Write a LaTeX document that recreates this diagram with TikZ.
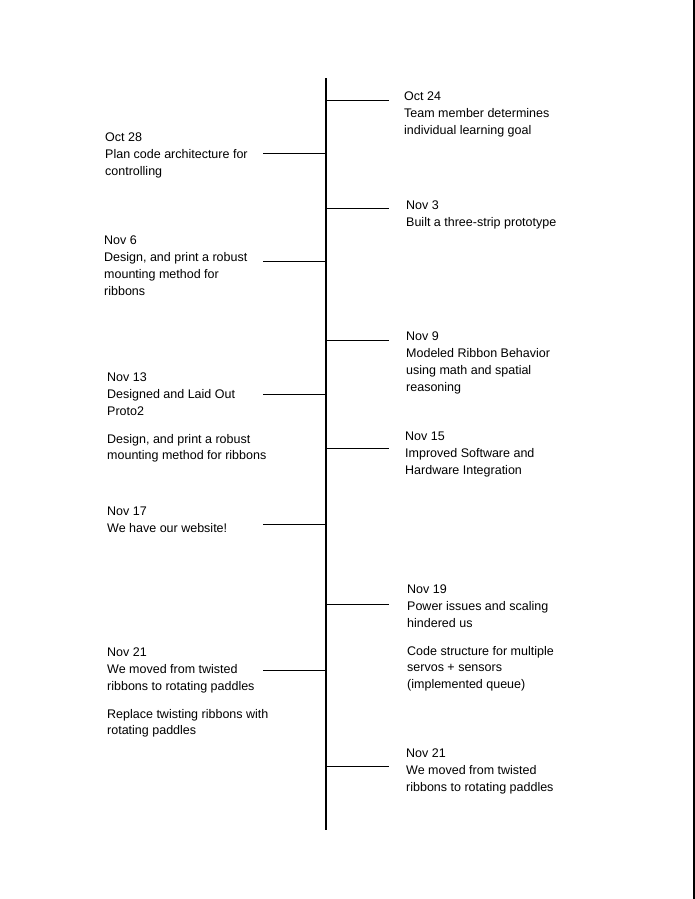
\documentclass[tikz,border=0pt]{standalone}
\usepackage{fontspec}
\setmainfont{Liberation Sans}
\usetikzlibrary{positioning,calc}
\tikzset{
  % tidslinje
  spine/.style={draw=black,line width=1.3pt},
  tk/.style={draw=black,line width=1pt},
  ev/.style={anchor=north west,inner sep=0pt,align=left,text=black,
             font=\fontsize{12.5}{16.7}\selectfont,yshift=-2pt},
  pageedge/.style={draw=black,line width=1.8pt},
}

\begin{document}
\begin{tikzpicture}[x=1pt,y=-1pt]
\useasboundingbox (0,0) rectangle (695,899);
  \coordinate (top) at (326,78);
  \coordinate (bot) at (326,830);
  \draw[spine] (top) -- (bot);
  % ticks rechts / links
  \foreach \y in {100,208,340,448,604,766} {
    \coordinate (s\y) at (326,\y);
    \coordinate (r\y) at (389,\y);
    \draw[tk] (s\y) -- (r\y);
  }
  \foreach \y in {153,261,394,524,670} {
    \coordinate (s\y) at (326,\y);
    \coordinate (l\y) at (263,\y);
    \draw[tk] (s\y) -- (l\y);
  }
  \node[ev] (oct24) at (404,90) {Oct 24\\Team member determines\\individual learning goal};
  \node[ev] (nov3) at (406,199) {Nov 3\\Built a three-strip prototype};
  \node[ev] (nov9) at (406,330) {Nov 9\\Modeled Ribbon Behavior\\using math and spatial\\reasoning};
  \node[ev] (nov15) at (405,430) {Nov 15\\Improved Software and\\Hardware Integration};
  \node[ev] (nov19) at (407,583) {Nov 19\\Power issues and scaling\\hindered us\\[11pt]Code structure for multiple\\servos + sensors\\(implemented queue)};
  \node[ev] (nov21r) at (406,747) {Nov 21\\We moved from twisted\\ribbons to rotating paddles};
  \node[ev] (oct28) at (105,131) {Oct 28\\Plan code architecture for\\controlling};
  \node[ev] (nov6) at (104,234) {Nov 6\\Design, and print a robust\\mounting method for\\ribbons};
  \node[ev] (nov13) at (107,371) {Nov 13\\Designed and Laid Out\\Proto2\\[11pt]Design, and print a robust\\mounting method for ribbons};
  \node[ev] (nov17) at (107,505) {Nov 17\\We have our website!};
  \node[ev] (nov21l) at (107,646) {Nov 21\\We moved from twisted\\ribbons to rotating paddles\\[11pt]Replace twisting ribbons with\\rotating paddles};
  \coordinate (pt) at (694,0);
  \coordinate (pb) at (694,899);
  \draw[pageedge] (pt) -- (pb);
\end{tikzpicture}
\end{document}
